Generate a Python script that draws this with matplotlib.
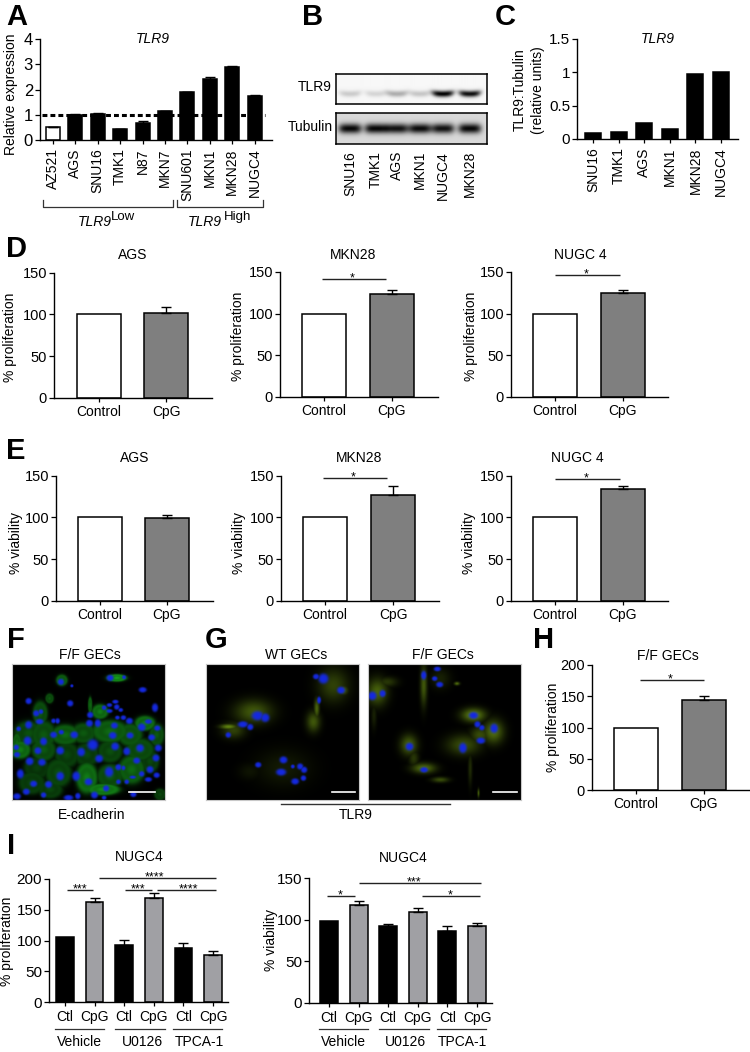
import numpy as np
import matplotlib
matplotlib.use('Agg')
import matplotlib.pyplot as plt

plt.rcParams['font.family'] = ['Liberation Sans', 'DejaVu Sans']

W, H = 750, 1052

# panel A
cells_a = ['AZ521', 'AGS', 'SNU16', 'TMK1', 'N87', 'MKN7', 'SNU601', 'MKN1', 'MKN28', 'NUGC4']
expr_a = [0.50, 1.00, 1.03, 0.42, 0.67, 1.15, 1.90, 2.42, 2.90, 1.75]
err_a = [0.03, 0.03, 0.03, 0.03, 0.07, 0.01, 0.01, 0.08, 0.03, 0.03]
# panels B, C
cells_b = ['SNU16', 'TMK1', 'AGS', 'MKN1', 'NUGC4', 'MKN28']
cells_c = ['SNU16', 'TMK1', 'AGS', 'MKN1', 'MKN28', 'NUGC4']
ratio_c = [0.09, 0.10, 0.24, 0.15, 0.97, 1.01]
tlr9_band = [0.18, 0.14, 0.30, 0.20, 1.0, 0.95]
tub_band = [0.97, 0.97, 0.92, 0.95, 0.92, 0.97]
# panels D, E, H
groups = ['Control', 'CpG']
prolif_ags = [100, 102]
prolif_ags_err = [0, 7]
prolif_mkn = [100, 124]
prolif_mkn_err = [0, 4]
prolif_nugc = [100, 125]
prolif_nugc_err = [0, 3]
viab_ags = [100, 99]
viab_ags_err = [0, 4]
viab_mkn = [100, 127]
viab_mkn_err = [0, 11]
viab_nugc = [100, 134]
viab_nugc_err = [0, 4]
prolif_ff = [100, 144]
prolif_ff_err = [0, 7]
# panel I
labels_i = ['Ctl', 'CpG', 'Ctl', 'CpG', 'Ctl', 'CpG']
prolif_i = [106, 163, 93, 169, 88, 76]
prolif_i_err = [0, 6, 8, 8, 8, 7]
viab_i = [99, 118, 92, 109, 87, 92]
viab_i_err = [0, 5, 3, 5, 5, 4]

# micrographs, in zoomed crop pixels: nuclei x, y, rx, ry and stain x, y, sx, sy, level
nuclei_f = [(182,80,8,8),(215,92,4,4),(330,68,9,8),(372,66,5,5),(428,104,10,7),(85,138,8,8),(210,145,8,8),
    (465,158,8,11),(328,150,7,5),(346,140,8,5),(312,158,6,6),(350,156,7,7),(328,168,8,5),(362,165,6,5),
    (108,175,8,8),(122,170,6,6),(270,180,8,8),(160,198,6,6),(172,198,6,7),(118,200,10,7),(85,210,9,10),
    (55,222,6,6),(268,205,9,9),(293,205,8,10),(343,212,9,8),(388,198,9,8),(370,188,7,6),(352,188,6,5),
    (425,217,10,10),(445,200,9,6),(472,220,8,7),(183,232,7,6),(160,240,9,8),(222,240,10,9),(338,242,10,9),
    (390,242,9,8),(455,248,9,8),(82,258,10,11),(130,260,9,10),(278,270,14,14),(345,275,10,10),(420,280,10,10),
    (475,280,9,9),(48,278,7,7),(113,288,9,9),(180,288,10,10),(243,292,10,11),(380,290,9,10),(50,300,8,7),
    (297,312,10,10),(410,318,9,8),(468,310,9,9),(88,320,10,10),(125,323,10,9),(355,338,8,8),(450,345,9,9),
    (327,352,11,13),(60,358,9,12),(180,365,10,11),(228,365,10,12),(370,340,5,6),(398,368,8,4),(425,358,7,7),
    (470,362,8,7),(445,375,9,6),(100,388,9,8),(145,390,9,9),(265,382,10,9),(318,402,8,8),(355,382,6,6),
    (380,382,6,6),(78,412,9,8),(130,422,7,7),(50,426,10,8),(205,430,12,7),(233,425,7,8),(283,422,9,9),
    (312,430,6,5),(400,420,8,7)]
stain_f = [(350,68,24,9,.9),(185,75,14,14,.6),(120,175,18,30,.5),(300,170,20,18,.7),(85,235,35,30,.45),
    (130,240,30,35,.5),(195,240,35,25,.6),(250,235,30,25,.5),(330,230,45,28,.6),(390,240,30,28,.55),
    (435,205,25,18,.7),(60,285,25,22,.7),(130,285,30,28,.5),(200,300,30,32,.4),(260,300,30,30,.4),
    (330,290,30,28,.45),(420,285,35,28,.5),(110,340,32,28,.35),(175,355,32,35,.45),(260,370,26,38,.7),
    (330,365,32,30,.5),(395,345,32,35,.6),(95,385,32,28,.4),(150,405,30,22,.4),(470,240,18,28,.5),
    (450,320,22,28,.4),(310,405,40,14,.8),(480,420,14,14,.4),(50,265,10,25,.6),(270,150,5,20,.6),(148,130,10,12,.5)]
nuclei_wt = [(348,64,8,7),(370,70,13,13),(423,105,10,9),(357,135,5,9),(172,182,15,12),(195,188,11,11),
    (128,208,13,8),(150,216,8,8),(84,240,7,7),(174,330,8,7),(250,315,10,9),(243,352,13,9),(278,335,5,5),
    (300,335,8,8),(312,345,8,8),(285,380,10,8),(310,370,7,7)]
stain_wt = [(400,90,45,50,.3),(340,200,20,30,.4),(350,160,8,30,.45),(160,170,55,35,.4),(100,225,35,25,.3),
    (85,215,25,8,.6),(150,160,30,15,.3),(250,340,80,55,.12),(150,350,35,25,.09),(430,105,15,15,.4)]
nuclei_ff = [(515,122,11,11),(546,115,8,9),(670,60,7,11),(711,41,9,6),(703,70,7,6),(718,88,9,7),(820,181,12,9),
    (832,208,8,8),(845,218,7,7),(842,257,11,8),(882,220,10,12),(788,279,10,13),(627,275,10,10),(671,345,10,7)]
stain_ff = [(530,110,30,40,.45),(670,90,10,60,.4),(720,70,30,30,.15),(770,85,8,5,.5),(820,180,35,20,.6),
    (880,230,30,35,.5),(790,270,50,30,.35),(840,240,30,25,.35),(625,270,25,30,.45),(670,340,35,15,.5),
    (720,375,25,8,.35),(640,310,15,25,.25),(560,80,30,15,.25),(810,340,6,50,.2),(520,180,8,40,.15),(835,415,3,12,.45)]

fig = plt.figure(figsize=(W / 100, H / 100), dpi=100)

# overlay in picture pixels for annotation
ov = fig.add_axes([0, 0, 1, 1], zorder=10)
ov.set_xlim(0, W)
ov.set_ylim(H, 0)
ov.axis('off')


def px_axes(x0, x1, ytop, ybot):
    return fig.add_axes([x0 / W, 1 - ybot / H, (x1 - x0) / W, (ybot - ytop) / H])


def bars(rect, first, step, width, values, errs, colors, labels, ylim, yticks, yticklabels=None,
         rotation=0, fs=10, pad=2, ysize=10.5, edge='black'):
    x0, x1, ytop, ybot = rect
    ax = px_axes(x0, x1, ytop, ybot)
    pos = np.arange(len(values))
    ax.bar(pos, values, width / step, color=colors, edgecolor=edge, linewidth=1.1)
    for p, v, e in zip(pos, values, errs):
        if e > 0:
            ax.errorbar(p, v, yerr=[[0], [e]], color='black', capsize=3.5, elinewidth=1.0, capthick=1.0)
    ax.set_xlim((x0 - first) / step, (x1 - first) / step)
    ax.set_ylim(*ylim)
    ax.set_yticks(yticks)
    if yticklabels is not None:
        ax.set_yticklabels(yticklabels)
    ax.set_xticks(pos)
    ax.set_xticklabels(labels, rotation=rotation, fontsize=fs)
    ax.tick_params(axis='x', length=3, width=0.9, pad=pad)
    ax.tick_params(axis='y', length=3.5, width=0.9, labelsize=ysize, pad=1.5)
    ax.spines[['top', 'right']].set_visible(False)
    ax.spines[['left', 'bottom']].set_linewidth(1.0)
    ax.patch.set_alpha(0)
    return ax


def sig(x0, x1, y, stars='*', xt=None):
    ov.plot([x0, x1], [y, y], color='#222222', lw=1.0, solid_capstyle='butt')
    ov.text((x0 + x1) / 2 if xt is None else xt, y - 0.5, stars, ha='center', va='center', fontsize=9)


def label(x, y, s, **kw):
    kw.setdefault('ha', 'center')
    kw.setdefault('va', 'center')
    kw.setdefault('fontsize', 10)
    ov.text(x, y, s, **kw)


def micrograph(rect, crop, nuclei, stain, tint, ring=0.0):
    # crop is the zoom box x0, x1, y0, y1 the nuclei and stain lists are written in
    x0, x1, y0, y1 = crop
    xx, yy = np.meshgrid(np.linspace(x0, x1, 230), np.linspace(y0, y1, 205))
    g = np.zeros_like(xx)
    for cx, cy, sx, sy, a in stain:
        r = np.sqrt(((xx - cx) / sx) ** 2 + ((yy - cy) / sy) ** 2)
        g = np.maximum(g, a * (np.exp(-r ** 2) + ring * np.exp(-((r - 1.0) / 0.32) ** 2)))
    g = np.clip(g, 0, 1)
    b = np.zeros_like(xx)
    for cx, cy, rx, ry in nuclei:
        b = np.maximum(b, np.exp(-(((xx - cx) / (1.2 * rx)) ** 2 + ((yy - cy) / (1.2 * ry)) ** 2) ** 2))
    img = np.zeros(xx.shape + (3,))
    for i in range(3):
        img[..., i] = g * tint[i]
    for i, c in enumerate((0.08, 0.16, 0.88)):
        img[..., i] = img[..., i] * (1 - b) + c * b
    ax = px_axes(*rect)
    ax.imshow(img, aspect='auto', interpolation='bilinear')
    ax.set_xticks([])
    ax.set_yticks([])
    for s in ax.spines.values():
        s.set_color('#c8c8c8')
        s.set_linewidth(0.8)


def blot(rect, levels, centers, bg, band_h, band_w):
    x0, x1, ytop, ybot = rect
    xx, yy = np.meshgrid(np.linspace(x0, x1, 300), np.linspace(ytop, ybot, 60))
    ymid = (ytop + ybot) / 2 + (5 if band_h < 4 else 0)
    img = np.full(xx.shape, bg)
    for c, lv in zip(centers, levels):
        arc = 1.2 * ((xx - c) / band_w) ** 2 if band_h < 4 else 0
        img -= lv * bg * np.exp(-((xx - c) / band_w) ** 4 - ((yy - ymid + arc) / band_h) ** 2)
    ax = px_axes(*rect)
    ax.imshow(img, cmap='gray', vmin=0, vmax=1, aspect='auto', interpolation='bilinear')
    ax.set_xticks([])
    ax.set_yticks([])
    for s in ax.spines.values():
        s.set_linewidth(1.1)


# A
colors_a = ['white'] + ['black'] * 9
ax = bars((40, 272, 39, 140), 53, 22.4, 14, expr_a, err_a, colors_a, cells_a, (0, 4), [0, 1, 2, 3, 4],
          rotation=90, fs=10, pad=3, ysize=12)
ax.plot([-0.5, 9.45], [1, 1], color='black', lw=2.2, dashes=(1.6, 1.0), zorder=5)
label(153, 39, 'TLR9', style='italic')
label(11, 94, 'Relative expression', rotation=90)
for x0, x1 in ((43, 173), (177, 263)):
    ov.plot([x0, x0, x1, x1], [200, 207, 207, 200], color='#333333', lw=0.9)
label(78, 222, 'TLR9', style='italic', ha='left', fontsize=10)
label(111, 217, 'Low', ha='left', fontsize=9.5)
label(188, 222, 'TLR9', style='italic', ha='left', fontsize=10)
label(224, 217, 'High', ha='left', fontsize=9.5)

# B
lanes = [350, 376, 397, 420, 443, 470]
blot((336, 487, 74, 104), tlr9_band, lanes, 0.97, 3.2, 11)
blot((336, 487, 113, 144), tub_band, lanes, 0.85, 5.0, 11.5)
label(332, 87, 'TLR9', ha='right')
label(333, 127, 'Tubulin', ha='right')
for x, s in zip(lanes, cells_b):
    label(x, 151, s, rotation=90, va='top', fontsize=10)

# C
bars((577, 738, 39, 139), 593, 25.6, 16, ratio_c, [0] * 6, ['black'] * 6, cells_c, (0, 1.5), [0, 0.5, 1, 1.5],
     ['0', '0.5', '1', '1.5'], rotation=90, fs=10, pad=3, ysize=11)
label(658, 39, 'TLR9', style='italic')
label(520, 90, 'TLR9:Tubulin', rotation=90)
label(538, 90, '(relative units)', rotation=90)

# D
fill = ['white', '#7f7f7f']
bars((54, 212, 272.7, 397.7), 98.5, 67.7, 44, prolif_ags, prolif_ags_err, fill, groups, (0, 150), [0, 50, 100, 150])
bars((280, 438, 272, 397), 323.5, 68.2, 44, prolif_mkn, prolif_mkn_err, fill, groups, (0, 150), [0, 50, 100, 150])
bars((511, 668, 272, 397), 554.5, 68, 44, prolif_nugc, prolif_nugc_err, fill, groups, (0, 150), [0, 50, 100, 150])
label(133, 255, 'AGS')
label(353, 255, 'MKN28')
label(580, 255, 'NUGC 4')
for x, y in ((10.5, 337), (238, 336), (471, 336)):
    label(x, y, '% proliferation', rotation=90)
sig(321.5, 385.6, 278.7, xt=352)
sig(555, 619.6, 275, xt=585.7)

# E
bars((56, 213, 475.7, 601), 99.8, 67, 44, viab_ags, viab_ags_err, fill, groups, (0, 150), [0, 50, 100, 150])
bars((281, 439, 475.7, 601), 325, 68, 44, viab_mkn, viab_mkn_err, fill, groups, (0, 150), [0, 50, 100, 150])
bars((511, 668, 475.7, 601), 554.5, 68, 44, viab_nugc, viab_nugc_err, fill, groups, (0, 150), [0, 50, 100, 150])
label(134.5, 458, 'AGS')
label(359, 458, 'MKN28')
label(577.5, 458, 'NUGC 4')
for x, y in ((16, 543), (239, 543), (469, 543)):
    label(x, y, '% viability', rotation=90)
sig(323, 386.6, 478, xt=353)
sig(555, 619.6, 479, xt=585.7)

# F, G
micrograph((12, 165, 664, 800), (36, 494, 27, 436), nuclei_f, stain_f, (0.10, 0.70, 0.12), ring=0.45)
micrograph((206, 359, 664, 800), (18, 476, 27, 435), nuclei_wt, stain_wt, (0.62, 0.85, 0.1))
micrograph((368, 521, 664, 800), (503, 962, 27, 435), nuclei_ff, stain_ff, (0.62, 0.85, 0.1))
for x0, x1 in ((129, 155), (332, 355), (493, 517)):
    ov.plot([x0, x1], [792, 792], color='white', lw=1.2)
label(90, 655, 'F/F GECs')
label(92, 815, 'E-cadherin')
label(296, 655, 'WT GECs')
label(442.5, 655, 'F/F GECs')
ov.plot([281, 450], [804, 804], color='#333333', lw=1.0)
label(356, 815, 'TLR9')

# H
bars((592, 749, 665, 790), 636, 67.5, 44, prolif_ff, prolif_ff_err, fill, groups, (0, 200), [0, 50, 100, 150, 200])
label(667.5, 656, 'F/F GECs')
label(553, 727, '% proliferation', rotation=90)
sig(639.7, 704, 680, xt=670)

# I
fill_i = ['black', '#a0a0a4'] * 3
bars((49, 228, 879, 1002), 65, 29.6, 17.5, prolif_i, prolif_i_err, fill_i, labels_i, (0, 200),
     [0, 50, 100, 150, 200], fs=10, pad=3, ysize=11)
bars((309, 492, 878, 1003), 329, 29.6, 18, viab_i, viab_i_err, fill_i, labels_i, (0, 150),
     [0, 50, 100, 150], fs=10, pad=3, ysize=11)
label(139, 857, 'NUGC4')
label(403, 858, 'NUGC4')
label(7.5, 941, '% proliferation', rotation=90)
label(271, 940, '% viability', rotation=90)
sig(67, 93, 890, '***')
sig(98.5, 216, 878, '****', xt=154)
sig(125, 152, 890, '***', xt=138)
sig(156.5, 215.6, 890, '****', xt=188.5)
sig(326.7, 355, 896, xt=340)
sig(359, 481, 883, '***', xt=414)
sig(422, 480, 896, xt=450)
for x0, x1 in ((55, 104), (115, 165), (172.5, 221.5), (319, 368), (379, 428.5), (436.5, 486)):
    ov.plot([x0, x1], [1029, 1029], color='#333333', lw=0.9)
for x, s in ((79, 'Vehicle'), (142, 'U0126'), (199, 'TPCA-1'), (343.6, 'Vehicle'), (405.6, 'U0126'), (462.7, 'TPCA-1')):
    label(x, 1042, s)

# panel letters
for x, y, s in (
    (6, 17, 'A'), (302, 17, 'B'), (495, 17, 'C'), (6, 249, 'D'), (6, 451, 'E'),
    (7, 640, 'F'), (205, 640, 'G'), (533, 640, 'H'), (7, 846, 'I'),
):
    label(x, y, s, ha='left', fontsize=21, fontweight='bold')

fig.savefig('out.png', dpi=100)
